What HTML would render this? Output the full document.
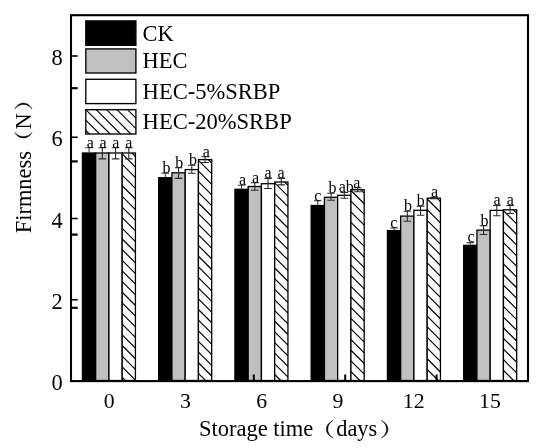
<!DOCTYPE html>
<html><head><meta charset="utf-8"><title>Firmness chart</title>
<style>html,body{margin:0;padding:0;background:#fff;}body{width:550px;height:448px;overflow:hidden;}svg{display:block;will-change:transform;}text{font-family:"Liberation Serif",serif;fill:#000;}</style>
</head><body>
<svg width="550" height="448" viewBox="0 0 550 448">
<rect x="0" y="0" width="550" height="448" fill="#ffffff"/>
<rect x="82.43" y="153.00" width="13.25" height="227.50" fill="#000" stroke="#000" stroke-width="1.3"/>
<rect x="95.68" y="153.00" width="13.25" height="227.50" fill="#c0c0c0" stroke="#000" stroke-width="1.3"/>
<rect x="108.93" y="153.00" width="13.25" height="227.50" fill="#fff" stroke="#000" stroke-width="1.3"/>
<rect x="122.18" y="153.00" width="13.25" height="227.50" fill="#fff" stroke="#000" stroke-width="1.3"/>
<path d="M132.03 153.00L135.43 156.40M122.18 153.80L135.43 167.05M122.18 164.45L135.43 177.70M122.18 175.10L135.43 188.35M122.18 185.75L135.43 199.00M122.18 196.40L135.43 209.65M122.18 207.05L135.43 220.30M122.18 217.70L135.43 230.95M122.18 228.35L135.43 241.60M122.18 239.00L135.43 252.25M122.18 249.65L135.43 262.90M122.18 260.30L135.43 273.55M122.18 270.95L135.43 284.20M122.18 281.60L135.43 294.85M122.18 292.25L135.43 305.50M122.18 302.90L135.43 316.15M122.18 313.55L135.43 326.80M122.18 324.20L135.43 337.45M122.18 334.85L135.43 348.10M122.18 345.50L135.43 358.75M122.18 356.15L135.43 369.40M122.18 366.80L135.43 380.05M122.18 377.45L125.23 380.50" stroke="#000" stroke-width="1.20" fill="none"/>
<rect x="158.68" y="177.70" width="13.25" height="202.80" fill="#000" stroke="#000" stroke-width="1.3"/>
<rect x="171.93" y="172.80" width="13.25" height="207.70" fill="#c0c0c0" stroke="#000" stroke-width="1.3"/>
<rect x="185.18" y="169.60" width="13.25" height="210.90" fill="#fff" stroke="#000" stroke-width="1.3"/>
<rect x="198.43" y="159.60" width="13.25" height="220.90" fill="#fff" stroke="#000" stroke-width="1.3"/>
<path d="M208.28 159.60L211.68 163.00M198.43 160.40L211.68 173.65M198.43 171.05L211.68 184.30M198.43 181.70L211.68 194.95M198.43 192.35L211.68 205.60M198.43 203.00L211.68 216.25M198.43 213.65L211.68 226.90M198.43 224.30L211.68 237.55M198.43 234.95L211.68 248.20M198.43 245.60L211.68 258.85M198.43 256.25L211.68 269.50M198.43 266.90L211.68 280.15M198.43 277.55L211.68 290.80M198.43 288.20L211.68 301.45M198.43 298.85L211.68 312.10M198.43 309.50L211.68 322.75M198.43 320.15L211.68 333.40M198.43 330.80L211.68 344.05M198.43 341.45L211.68 354.70M198.43 352.10L211.68 365.35M198.43 362.75L211.68 376.00M198.43 373.40L205.53 380.50" stroke="#000" stroke-width="1.20" fill="none"/>
<rect x="234.93" y="189.30" width="13.25" height="191.20" fill="#000" stroke="#000" stroke-width="1.3"/>
<rect x="248.18" y="186.50" width="13.25" height="194.00" fill="#c0c0c0" stroke="#000" stroke-width="1.3"/>
<rect x="261.43" y="183.70" width="13.25" height="196.80" fill="#fff" stroke="#000" stroke-width="1.3"/>
<rect x="274.68" y="182.00" width="13.25" height="198.50" fill="#fff" stroke="#000" stroke-width="1.3"/>
<path d="M284.53 182.00L287.93 185.40M274.68 182.80L287.93 196.05M274.68 193.45L287.93 206.70M274.68 204.10L287.93 217.35M274.68 214.75L287.93 228.00M274.68 225.40L287.93 238.65M274.68 236.05L287.93 249.30M274.68 246.70L287.93 259.95M274.68 257.35L287.93 270.60M274.68 268.00L287.93 281.25M274.68 278.65L287.93 291.90M274.68 289.30L287.93 302.55M274.68 299.95L287.93 313.20M274.68 310.60L287.93 323.85M274.68 321.25L287.93 334.50M274.68 331.90L287.93 345.15M274.68 342.55L287.93 355.80M274.68 353.20L287.93 366.45M274.68 363.85L287.93 377.10M274.68 374.50L280.68 380.50" stroke="#000" stroke-width="1.20" fill="none"/>
<rect x="311.18" y="205.50" width="13.25" height="175.00" fill="#000" stroke="#000" stroke-width="1.3"/>
<rect x="324.43" y="197.30" width="13.25" height="183.20" fill="#c0c0c0" stroke="#000" stroke-width="1.3"/>
<rect x="337.68" y="195.30" width="13.25" height="185.20" fill="#fff" stroke="#000" stroke-width="1.3"/>
<rect x="350.93" y="189.70" width="13.25" height="190.80" fill="#fff" stroke="#000" stroke-width="1.3"/>
<path d="M360.78 189.70L364.18 193.10M350.93 190.50L364.18 203.75M350.93 201.15L364.18 214.40M350.93 211.80L364.18 225.05M350.93 222.45L364.18 235.70M350.93 233.10L364.18 246.35M350.93 243.75L364.18 257.00M350.93 254.40L364.18 267.65M350.93 265.05L364.18 278.30M350.93 275.70L364.18 288.95M350.93 286.35L364.18 299.60M350.93 297.00L364.18 310.25M350.93 307.65L364.18 320.90M350.93 318.30L364.18 331.55M350.93 328.95L364.18 342.20M350.93 339.60L364.18 352.85M350.93 350.25L364.18 363.50M350.93 360.90L364.18 374.15M350.93 371.55L359.88 380.50" stroke="#000" stroke-width="1.20" fill="none"/>
<rect x="387.43" y="230.60" width="13.25" height="149.90" fill="#000" stroke="#000" stroke-width="1.3"/>
<rect x="400.68" y="216.10" width="13.25" height="164.40" fill="#c0c0c0" stroke="#000" stroke-width="1.3"/>
<rect x="413.93" y="210.30" width="13.25" height="170.20" fill="#fff" stroke="#000" stroke-width="1.3"/>
<rect x="427.18" y="198.20" width="13.25" height="182.30" fill="#fff" stroke="#000" stroke-width="1.3"/>
<path d="M437.03 198.20L440.43 201.60M427.18 199.00L440.43 212.25M427.18 209.65L440.43 222.90M427.18 220.30L440.43 233.55M427.18 230.95L440.43 244.20M427.18 241.60L440.43 254.85M427.18 252.25L440.43 265.50M427.18 262.90L440.43 276.15M427.18 273.55L440.43 286.80M427.18 284.20L440.43 297.45M427.18 294.85L440.43 308.10M427.18 305.50L440.43 318.75M427.18 316.15L440.43 329.40M427.18 326.80L440.43 340.05M427.18 337.45L440.43 350.70M427.18 348.10L440.43 361.35M427.18 358.75L440.43 372.00M427.18 369.40L438.28 380.50M427.18 380.05L427.63 380.50" stroke="#000" stroke-width="1.20" fill="none"/>
<rect x="463.68" y="245.35" width="13.25" height="135.15" fill="#000" stroke="#000" stroke-width="1.3"/>
<rect x="476.93" y="230.10" width="13.25" height="150.40" fill="#c0c0c0" stroke="#000" stroke-width="1.3"/>
<rect x="490.18" y="210.40" width="13.25" height="170.10" fill="#fff" stroke="#000" stroke-width="1.3"/>
<rect x="503.43" y="209.80" width="13.25" height="170.70" fill="#fff" stroke="#000" stroke-width="1.3"/>
<path d="M513.28 209.80L516.68 213.20M503.43 210.60L516.68 223.85M503.43 221.25L516.68 234.50M503.43 231.90L516.68 245.15M503.43 242.55L516.68 255.80M503.43 253.20L516.68 266.45M503.43 263.85L516.68 277.10M503.43 274.50L516.68 287.75M503.43 285.15L516.68 298.40M503.43 295.80L516.68 309.05M503.43 306.45L516.68 319.70M503.43 317.10L516.68 330.35M503.43 327.75L516.68 341.00M503.43 338.40L516.68 351.65M503.43 349.05L516.68 362.30M503.43 359.70L516.68 372.95M503.43 370.35L513.58 380.50" stroke="#000" stroke-width="1.20" fill="none"/>
<path d="M89.06 147.80V153.00M85.26 147.80H92.86" stroke="#444" stroke-width="1.1" fill="none"/>
<text x="90.31" y="147.60" font-size="16" text-anchor="middle">a</text>
<path d="M102.31 147.80V158.90M98.51 147.80H106.11M98.51 158.90H106.11" stroke="#2a2a2a" stroke-width="1.1" fill="none"/>
<text x="103.16" y="147.60" font-size="16" text-anchor="middle">a</text>
<path d="M115.56 147.80V158.90M111.76 147.80H119.36M111.76 158.90H119.36" stroke="#2a2a2a" stroke-width="1.1" fill="none"/>
<text x="115.71" y="147.60" font-size="16" text-anchor="middle">a</text>
<path d="M128.81 147.80V158.90M125.01 147.80H132.61M125.01 158.90H132.61" stroke="#2a2a2a" stroke-width="1.1" fill="none"/>
<text x="128.81" y="147.60" font-size="16" text-anchor="middle">a</text>
<path d="M165.31 173.10V177.70M161.50 173.10H169.11" stroke="#444" stroke-width="1.1" fill="none"/>
<text x="166.41" y="172.90" font-size="16" text-anchor="middle">b</text>
<path d="M178.56 167.80V178.40M174.75 167.80H182.36M174.75 178.40H182.36" stroke="#2a2a2a" stroke-width="1.1" fill="none"/>
<text x="179.25" y="167.60" font-size="16" text-anchor="middle">b</text>
<path d="M191.81 165.20V173.30M188.00 165.20H195.61M188.00 173.30H195.61" stroke="#2a2a2a" stroke-width="1.1" fill="none"/>
<text x="192.91" y="165.00" font-size="16" text-anchor="middle">b</text>
<path d="M205.06 156.80V162.50M201.25 156.80H208.86M201.25 162.50H208.86" stroke="#2a2a2a" stroke-width="1.1" fill="none"/>
<text x="206.36" y="156.60" font-size="16" text-anchor="middle">a</text>
<path d="M241.56 185.20V189.30M237.75 185.20H245.36" stroke="#444" stroke-width="1.1" fill="none"/>
<text x="242.46" y="185.00" font-size="16" text-anchor="middle">a</text>
<path d="M254.81 182.70V190.30M251.00 182.70H258.61M251.00 190.30H258.61" stroke="#2a2a2a" stroke-width="1.1" fill="none"/>
<text x="255.61" y="182.50" font-size="16" text-anchor="middle">a</text>
<path d="M268.06 178.40V188.50M264.25 178.40H271.86M264.25 188.50H271.86" stroke="#2a2a2a" stroke-width="1.1" fill="none"/>
<text x="268.16" y="178.20" font-size="16" text-anchor="middle">a</text>
<path d="M281.31 178.40V184.90M277.50 178.40H285.11M277.50 184.90H285.11" stroke="#2a2a2a" stroke-width="1.1" fill="none"/>
<text x="281.00" y="178.20" font-size="16" text-anchor="middle">a</text>
<path d="M317.81 200.80V205.50M314.00 200.80H321.61" stroke="#444" stroke-width="1.1" fill="none"/>
<text x="317.81" y="200.60" font-size="16" text-anchor="middle">c</text>
<path d="M331.06 193.20V200.30M327.25 193.20H334.86M327.25 200.30H334.86" stroke="#2a2a2a" stroke-width="1.1" fill="none"/>
<text x="332.45" y="193.00" font-size="16" text-anchor="middle">b</text>
<path d="M344.31 192.50V198.20M340.50 192.50H348.11M340.50 198.20H348.11" stroke="#2a2a2a" stroke-width="1.1" fill="none"/>
<text x="346.20" y="192.30" font-size="16" text-anchor="middle">ab</text>
<path d="M357.56 187.70V191.70M353.75 187.70H361.36M353.75 191.70H361.36" stroke="#2a2a2a" stroke-width="1.1" fill="none"/>
<text x="356.86" y="187.50" font-size="16" text-anchor="middle">a</text>
<path d="M394.06 228.00V230.60M390.25 228.00H397.86" stroke="#444" stroke-width="1.1" fill="none"/>
<text x="393.86" y="227.80" font-size="16" text-anchor="middle">c</text>
<path d="M407.31 211.20V221.20M403.50 211.20H411.11M403.50 221.20H411.11" stroke="#2a2a2a" stroke-width="1.1" fill="none"/>
<text x="408.11" y="211.00" font-size="16" text-anchor="middle">b</text>
<path d="M420.56 206.10V215.30M416.75 206.10H424.36M416.75 215.30H424.36" stroke="#2a2a2a" stroke-width="1.1" fill="none"/>
<text x="420.86" y="205.90" font-size="16" text-anchor="middle">b</text>
<path d="M433.81 197.40V198.80M430.00 197.40H437.61M430.00 198.80H437.61" stroke="#2a2a2a" stroke-width="1.1" fill="none"/>
<text x="434.61" y="197.20" font-size="16" text-anchor="middle">a</text>
<path d="M470.31 242.60V245.35M466.50 242.60H474.11" stroke="#444" stroke-width="1.1" fill="none"/>
<text x="471.06" y="242.40" font-size="16" text-anchor="middle">c</text>
<path d="M483.56 225.80V234.50M479.75 225.80H487.36M479.75 234.50H487.36" stroke="#2a2a2a" stroke-width="1.1" fill="none"/>
<text x="484.61" y="225.60" font-size="16" text-anchor="middle">b</text>
<path d="M496.81 205.50V215.70M493.00 205.50H500.61M493.00 215.70H500.61" stroke="#2a2a2a" stroke-width="1.1" fill="none"/>
<text x="497.16" y="205.30" font-size="16" text-anchor="middle">a</text>
<path d="M510.06 205.50V213.50M506.25 205.50H513.86M506.25 213.50H513.86" stroke="#2a2a2a" stroke-width="1.1" fill="none"/>
<text x="510.31" y="205.30" font-size="16" text-anchor="middle">a</text>
<rect x="71.0" y="15.2" width="457.0" height="365.9" fill="none" stroke="#000" stroke-width="2.1"/>
<line x1="72" x2="77.7" y1="299.75" y2="299.75" stroke="#000" stroke-width="1.6"/>
<line x1="72" x2="77.7" y1="218.50" y2="218.50" stroke="#000" stroke-width="1.6"/>
<line x1="72" x2="77.7" y1="137.25" y2="137.25" stroke="#000" stroke-width="1.6"/>
<line x1="72" x2="77.7" y1="56.00" y2="56.00" stroke="#000" stroke-width="1.6"/>
<line x1="72" x2="77.7" y1="307.80" y2="307.80" stroke="#000" stroke-width="2.2"/>
<line x1="72" x2="77.7" y1="234.60" y2="234.60" stroke="#000" stroke-width="2.2"/>
<line x1="72" x2="77.7" y1="161.40" y2="161.40" stroke="#000" stroke-width="2.2"/>
<line x1="72" x2="77.7" y1="88.20" y2="88.20" stroke="#000" stroke-width="2.2"/>
<line x1="162.40" x2="162.40" y1="374.5" y2="380" stroke="#000" stroke-width="2"/>
<line x1="253.80" x2="253.80" y1="374.5" y2="380" stroke="#000" stroke-width="2"/>
<line x1="345.20" x2="345.20" y1="374.5" y2="380" stroke="#000" stroke-width="2"/>
<line x1="436.60" x2="436.60" y1="374.5" y2="380" stroke="#000" stroke-width="2"/>
<text x="62.8" y="390.20" font-size="22.4" text-anchor="end">0</text>
<text x="62.8" y="308.95" font-size="22.4" text-anchor="end">2</text>
<text x="62.8" y="227.70" font-size="22.4" text-anchor="end">4</text>
<text x="62.8" y="146.45" font-size="22.4" text-anchor="end">6</text>
<text x="62.8" y="65.20" font-size="22.4" text-anchor="end">8</text>
<text x="109.23" y="408.4" font-size="21.8" text-anchor="middle">0</text>
<text x="185.48" y="408.4" font-size="21.8" text-anchor="middle">3</text>
<text x="261.73" y="408.4" font-size="21.8" text-anchor="middle">6</text>
<text x="337.98" y="408.4" font-size="21.8" text-anchor="middle">9</text>
<text x="413.73" y="408.4" font-size="21.8" text-anchor="middle">12</text>
<text x="489.98" y="408.4" font-size="21.8" text-anchor="middle">15</text>
<rect x="85.8" y="20.90" width="50.1" height="24.40" fill="#000" stroke="#000" stroke-width="1.35"/>
<rect x="85.8" y="48.90" width="50.1" height="24.10" fill="#c0c0c0" stroke="#000" stroke-width="1.35"/>
<rect x="85.8" y="79.30" width="50.1" height="24.30" fill="#fff" stroke="#000" stroke-width="1.35"/>
<rect x="85.8" y="109.70" width="50.1" height="24.30" fill="#fff" stroke="#000" stroke-width="1.35"/>
<path d="M127.40 109.70L135.90 118.20M117.00 109.70L135.90 128.60M106.60 109.70L130.90 134.00M96.20 109.70L120.50 134.00M85.80 109.70L110.10 134.00M85.80 120.10L99.70 134.00M85.80 130.50L89.30 134.00" stroke="#000" stroke-width="1.10" fill="none"/>
<text x="142.6" y="41.0" font-size="22.40">CK</text>
<text x="142.6" y="68.4" font-size="22.40">HEC</text>
<text x="142.6" y="99.0" font-size="22.56">HEC-5%SRBP</text>
<text x="142.6" y="129.0" font-size="22.56">HEC-20%SRBP</text>
<text x="199.0" y="436.2" font-size="22.5">Storage time</text>
<text x="336.2" y="436.2" font-size="22.4">days</text>
<path d="M333.20 420.40C324.00 424.25 324.00 434.05 333.20 437.90C326.00 434.05 326.00 424.25 333.20 420.40Z" fill="#000" stroke="#000" stroke-width="0.45" stroke-linejoin="round"/>
<path d="M381.20 420.40C390.27 424.25 390.27 434.05 381.20 437.90C388.27 434.05 388.27 424.25 381.20 420.40Z" fill="#000" stroke="#000" stroke-width="0.45" stroke-linejoin="round"/>
<g transform="translate(31,233.2) rotate(-90)">
<text x="0" y="0" font-size="22.4">Firmness</text>
<text x="103.7" y="0" font-size="22.4">N</text>
<path d="M100.80 -16.20C93.33 -12.42 93.33 -2.78 100.80 1.00C95.33 -2.78 95.33 -12.42 100.80 -16.20Z" fill="#000" stroke="#000" stroke-width="0.45" stroke-linejoin="round"/>
<path d="M124.20 -16.20C132.20 -12.42 132.20 -2.78 124.20 1.00C130.20 -2.78 130.20 -12.42 124.20 -16.20Z" fill="#000" stroke="#000" stroke-width="0.45" stroke-linejoin="round"/>
</g>
</svg></body></html>
